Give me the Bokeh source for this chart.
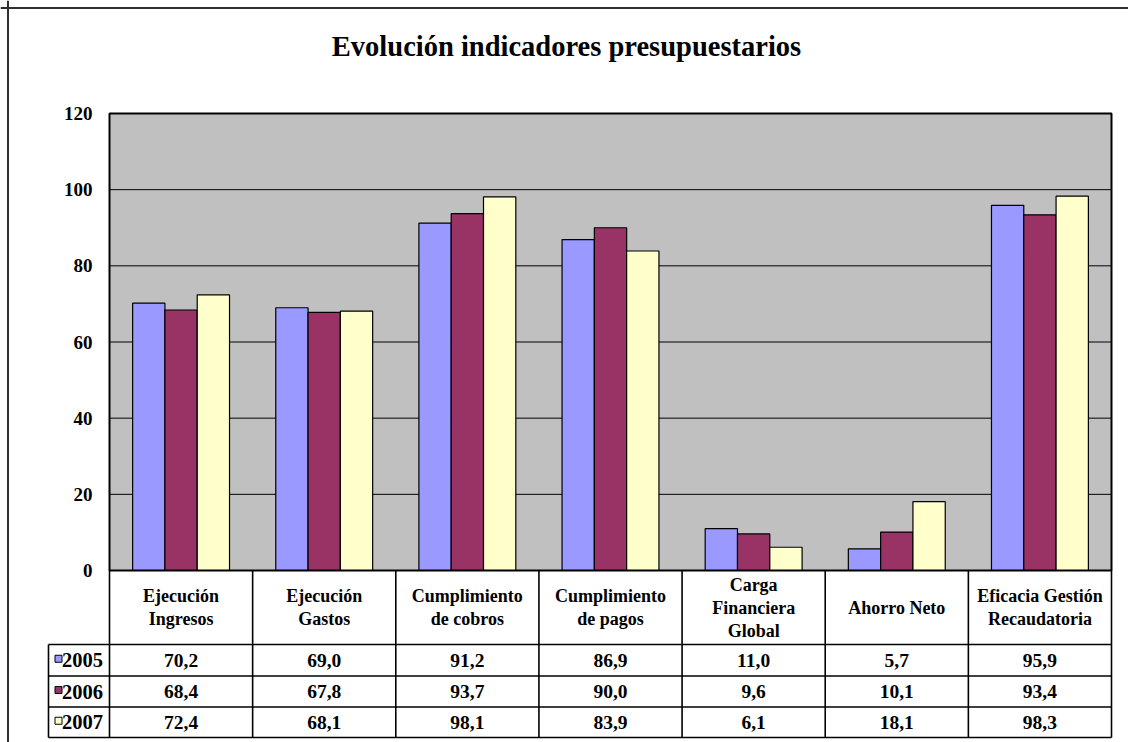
from bokeh.plotting import figure
from bokeh.models import Range1d, LinearAxis, FixedTicker, Span
from bokeh.core.properties import value
from bokeh.embed import file_html
from bokeh.resources import INLINE

# ---------------- data ----------------
title_text = "Evolución indicadores presupuestarios"
categories = ["Ejecución\nIngresos", "Ejecución\nGastos", "Cumplimiento\nde cobros",
              "Cumplimiento\nde pagos", "Carga\nFinanciera\nGlobal", "Ahorro Neto",
              "Eficacia Gestión\nRecaudatoria"]
years = ["2005", "2006", "2007"]
v2005 = [70.2, 69.0, 91.2, 86.9, 11.0, 5.7, 95.9]
v2006 = [68.4, 67.8, 93.7, 90.0, 9.6, 10.1, 93.4]
v2007 = [72.4, 68.1, 98.1, 83.9, 6.1, 18.1, 98.3]
y_ticks = [0, 20, 40, 60, 80, 100, 120]
series = [v2005, v2006, v2007]
colors = ["#9999FF", "#993366", "#FFFFCC"]

# ---------------- layout (image pixels) ----------------
W, H = 1128, 742
ORIGIN = 0
PLOT_L, PLOT_R, PLOT_T, PLOT_B = 109, 1111, 113, 570
YMAX = 120
N = len(categories)
cat_w = (PLOT_R - PLOT_L) / N
ppu = (PLOT_B - PLOT_T) / YMAX


def xd(px):
    return (px - PLOT_L) / cat_w


def yd(py):
    return (PLOT_B - py) / ppu


FONT = value("Liberation Serif")

p = figure(width=W, height=H,
           x_range=Range1d(xd(ORIGIN), xd(ORIGIN + W)),
           y_range=Range1d(yd(ORIGIN + H), yd(ORIGIN)),
           min_border=0, x_axis_type=None, y_axis_type=None,
           toolbar_location=None, output_backend="svg")
p.outline_line_color = None
p.background_fill_color = "white"
p.border_fill_color = "white"

# outer chart frame (top and left visible)
p.add_layout(Span(location=yd(7.5), dimension="width", line_color="#303030", line_width=2))
p.add_layout(Span(location=xd(7.5), dimension="height", line_color="#303030", line_width=2))

# title
p.text(x=[xd(566)], y=[yd(46)], text=[title_text], text_font=FONT, text_font_style="bold",
       text_font_size="28.5px", text_align="center", text_baseline="middle", text_color="black")

# plot area
p.quad(left=[0], right=[N], bottom=[0], top=[YMAX], fill_color="#C0C0C0", line_color=None)
grid_vals = [t for t in y_ticks if 0 < t < YMAX]
p.segment(x0=[0] * len(grid_vals), x1=[N] * len(grid_vals), y0=grid_vals, y1=grid_vals,
          line_color="black", line_width=1)

# bars
bw = 32.3 / cat_w
offsets = [-bw, 0, bw]
for vals, col, off in zip(series, colors, offsets):
    p.vbar(x=[i + 0.5 + off for i in range(N)], top=vals, bottom=0, width=bw,
           fill_color=col, line_color="black", line_width=1.2)

# plot area border
p.quad(left=[0], right=[N], bottom=[0], top=[YMAX], fill_color=None, line_color="black", line_width=2)

# y axis
yaxis = LinearAxis(fixed_location=0, bounds=(0, YMAX), ticker=FixedTicker(ticks=y_ticks))
yaxis.axis_line_color = None
yaxis.major_tick_line_color = None
yaxis.minor_tick_line_color = None
yaxis.major_tick_in = 0
yaxis.major_tick_out = 0
yaxis.major_label_standoff = 17
yaxis.major_label_text_font = "Liberation Serif"
yaxis.major_label_text_font_style = "bold"
yaxis.major_label_text_font_size = "19px"
yaxis.major_label_text_color = "black"
p.add_layout(yaxis, "left")

# data table
row_lines = [644, 675.5, 706.5, 737]
table_left = 48
bottom = yd(row_lines[-1])
p.segment(x0=[xd(table_left)] * len(row_lines), x1=[N] * len(row_lines),
          y0=[yd(r) for r in row_lines], y1=[yd(r) for r in row_lines],
          line_color="black", line_width=1.6)
p.segment(x0=list(range(N + 1)), x1=list(range(N + 1)), y0=[0] * (N + 1), y1=[bottom] * (N + 1),
          line_color="black", line_width=1.6)
p.segment(x0=[xd(table_left)], x1=[xd(table_left)], y0=[yd(row_lines[0])], y1=[bottom],
          line_color="black", line_width=1.6)

# header
p.text(x=[i + 0.5 for i in range(N)], y=[yd(607)] * N, text=categories, text_font=FONT,
       text_font_style="bold", text_font_size="18px", text_align="center",
       text_baseline="middle", text_line_height=1.15, text_color="black")

# values rows
for r, (yr, vals, col) in enumerate(zip(years, series, colors)):
    yc = yd((row_lines[r] + row_lines[r + 1]) / 2)
    labels = [("%.1f" % v).replace(".", ",") for v in vals]
    p.text(x=[i + 0.5 for i in range(N)], y=[yc] * N, text=labels, text_font=FONT,
           text_font_style="bold", text_font_size="19.5px", text_align="center",
           text_baseline="middle", text_color="black")
    p.scatter(x=[xd(58)], y=[yc + 1.5 / ppu], marker="square", size=7, fill_color=col,
              line_color="black", line_width=1)
    p.text(x=[xd(61.5)], y=[yc], text=[yr], text_font=FONT, text_font_style="bold",
           text_font_size="20.5px", text_align="left", text_baseline="middle", text_color="black")

open("out.html", "w").write(file_html(p, INLINE))
